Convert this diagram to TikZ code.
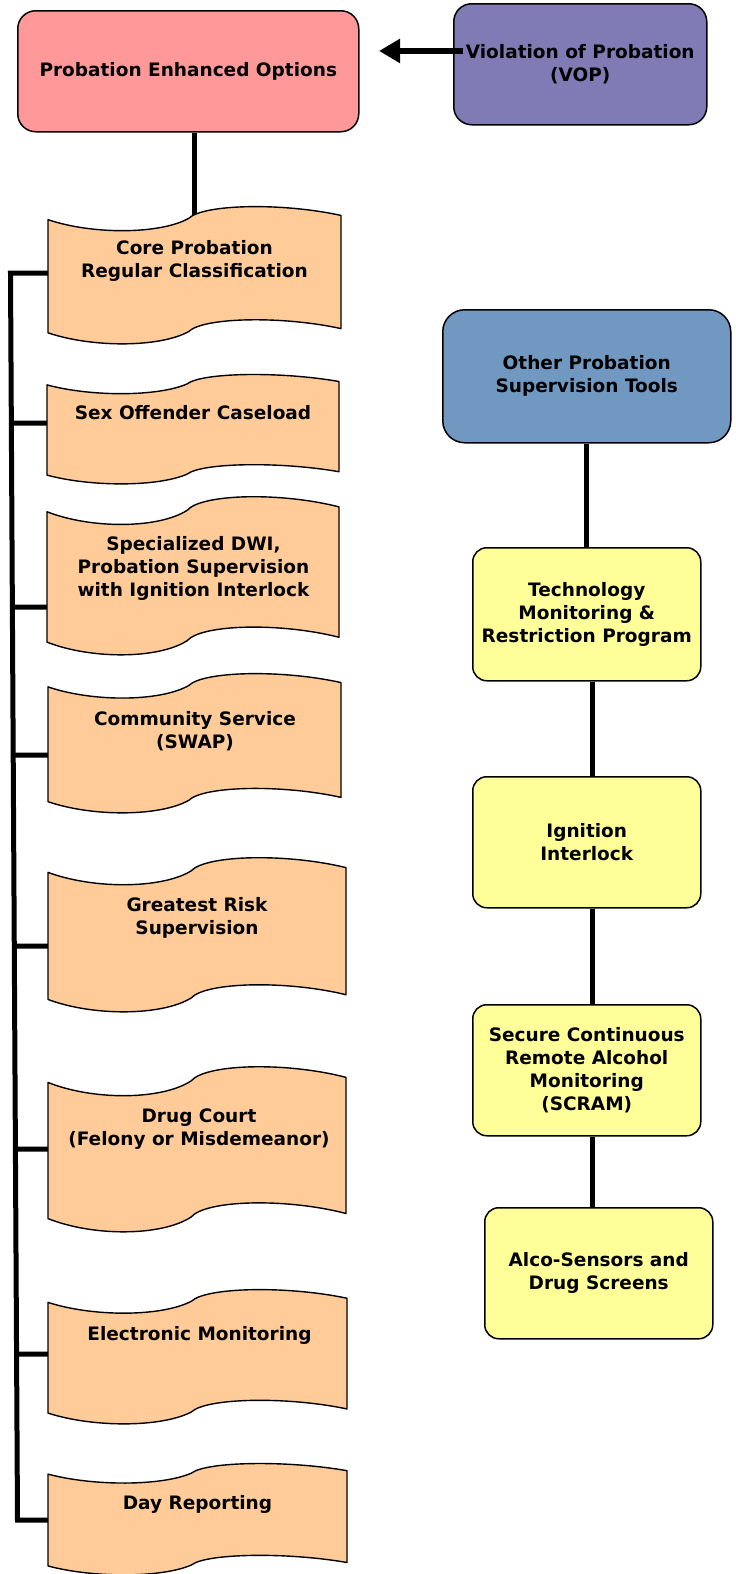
\documentclass[tikz,border=0pt]{standalone}
\usepackage{fontspec}
\setmainfont{DejaVu Sans}
\usetikzlibrary{calc,arrows.meta}
\definecolor{pinkc}{HTML}{FF9999}
\definecolor{purplec}{HTML}{807AB5}
\definecolor{bluec}{HTML}{7098C0}
\definecolor{yellowc}{HTML}{FFFF99}
\definecolor{tapec}{HTML}{FFCC99}
\newcommand\lbf{\fontsize{18.5}{23}\selectfont\bfseries}
\newcommand\tapeshape[4]{% x y w h
  \pgfmathsetmacro\tw{#3}%
  \pgfmathsetmacro\ta{0.18*#4}%
  \pgfmathsetmacro\tb{#4-\ta}%
  \begin{scope}[shift={(#1,#2)}]
  \path[tape] (0,{0.55*\ta})
    .. controls ({0.15*\tw},{1.15*\ta}) and ({0.38*\tw},{1.15*\ta}) .. ({0.48*\tw},{0.5*\ta})
    .. controls ({0.53*\tw},{-0.08*\ta}) and ({0.8*\tw},{-0.14*\ta}) .. (\tw,{0.38*\ta})
    -- (\tw,{\tb+0.38*\ta})
    .. controls ({0.8*\tw},{\tb-0.14*\ta}) and ({0.53*\tw},{\tb-0.08*\ta}) .. ({0.48*\tw},{\tb+0.5*\ta})
    .. controls ({0.38*\tw},{\tb+1.15*\ta}) and ({0.15*\tw},{\tb+1.15*\ta}) .. (0,{\tb+0.55*\ta})
    -- cycle;
  \end{scope}}
\tikzset{
  box/.style={draw=black, line width=1.5pt, align=center, font=\lbf, inner sep=0pt, anchor=north west},
  tapenode/.style={inner sep=0pt, outer sep=0pt, anchor=north west},
  tape/.style={draw=black, fill=tapec, line width=1.4pt, line join=round},
  lbl/.style={align=center, font=\lbf, inner sep=0pt},
  conn/.style={line width=5pt},
  arrowconn/.style={line width=6pt, -{Triangle[length=21pt,width=23pt]}},
}
\begin{document}
\begin{tikzpicture}[x=1pt,y=-1pt]
\useasboundingbox (0,0) rectangle (736,1574);
% rounded boxes
\node[box, fill=pinkc, rounded corners=18pt, minimum width=341pt, minimum height=121pt] (peo) at (17,10) {Probation Enhanced Options};
\node[box, fill=purplec, rounded corners=18pt, minimum width=253pt, minimum height=121pt] (vop) at (453,3) {Violation of Probation\\(VOP)};
\node[box, fill=bluec, rounded corners=22pt, minimum width=288pt, minimum height=133pt] (other) at (442,309) {Other Probation\\Supervision Tools};
\node[box, fill=yellowc, rounded corners=14pt, minimum width=228pt, minimum height=133pt] (tech) at (472,547) {Technology\\Monitoring \&\\Restriction Program};
\node[box, fill=yellowc, rounded corners=14pt, minimum width=228pt, minimum height=131pt] (ign) at (472,776) {Ignition\\Interlock};
\node[box, fill=yellowc, rounded corners=14pt, minimum width=228pt, minimum height=131pt] (scram) at (472,1004) {Secure Continuous\\Remote Alcohol\\Monitoring\\(SCRAM)};
\node[box, fill=yellowc, rounded corners=14pt, minimum width=228pt, minimum height=131pt] (alco) at (484,1207) {Alco-Sensors and\\Drug Screens};
% tape node frames
\node[tapenode, minimum width=293pt, minimum height=138pt] (core) at (48,206) {};
\node[tapenode, minimum width=292pt, minimum height=110pt] (sex) at (47,374) {};
\node[tapenode, minimum width=292pt, minimum height=159pt] (dwi) at (47,496) {};
\node[tapenode, minimum width=293pt, minimum height=140pt] (comm) at (48,673) {};
\node[tapenode, minimum width=298pt, minimum height=155pt] (risk) at (48,857) {};
\node[tapenode, minimum width=298pt, minimum height=166pt] (drug) at (48,1066) {};
\node[tapenode, minimum width=299pt, minimum height=135pt] (elec) at (48,1289) {};
\node[tapenode, minimum width=299pt, minimum height=112pt] (day) at (48,1463) {};
% tick points
\coordinate (tcore) at ([yshift=2pt]core.west);
\coordinate (tsex) at ([yshift=6pt]sex.west);
\coordinate (tdwi) at ([yshift=-31.5pt]dwi.west);
\coordinate (tcomm) at ([yshift=-12pt]comm.west);
\coordinate (trisk) at ([yshift=-11.5pt]risk.west);
\coordinate (tdrug) at (drug.west);
\coordinate (telec) at ([yshift=2.5pt]elec.west);
\coordinate (tday) at ([yshift=-1pt]day.west);
\coordinate (bt) at ([xshift=-37.5pt]tcore);
\coordinate (bb) at ([xshift=-30.5pt]tday);
% connectors
\draw[arrowconn] ([xshift=10pt,yshift=13.3pt]vop.west) -- ([xshift=19.5pt,yshift=20.3pt]peo.east);
\draw[conn] (core.north |- peo.south) -- ([yshift=-12pt]core.north);
\draw[conn, line join=miter] (tcore) -- (bt) -- (bb) -- (tday);
\foreach \t in {tsex,tdwi,tcomm,trisk,tdrug,telec}
  \draw[conn] ($(bt)!(\t)!(bb)$) -- (\t);
\draw[conn] (other.south) -- (tech.north);
\draw[conn] ([xshift=6pt]tech.south) -- ([xshift=6pt]ign.north);
\draw[conn] ([xshift=6pt]ign.south) -- ([xshift=6pt]scram.north);
\draw[conn] ([xshift=6pt]scram.south) -- ([xshift=6pt]scram.south |- alco.north);
% tape shapes
\tapeshape{48}{206}{293}{138}
\tapeshape{47}{374}{292}{110}
\tapeshape{47}{496}{292}{159}
\tapeshape{48}{673}{293}{140}
\tapeshape{48}{857}{298}{155}
\tapeshape{48}{1066}{298}{166}
\tapeshape{48}{1289}{299}{135}
\tapeshape{48}{1463}{299}{112}
% tape labels
\node[lbl] (coreT) at (194.5,260.5) {Core Probation\\Regular Classification};
\node[lbl] (sexT) at (193,412.6) {Sex Offender Caseload};
\node[lbl] (dwiT) at (193.5,568) {Specialized DWI,\\Probation Supervision\\with Ignition Interlock};
\node[lbl] (commT) at (195,731) {Community Service\\(SWAP)};
\node[lbl] (riskT) at (197,917.5) {Greatest Risk\\Supervision};
\node[lbl] (drugT) at (199,1129.3) {Drug Court\\(Felony or Misdemeanor)};
\node[lbl] (elecT) at (199.5,1335) {Electronic Monitoring};
\node[lbl] (dayT) at (197.5,1504.7) {Day Reporting};
\end{tikzpicture}
\end{document}
